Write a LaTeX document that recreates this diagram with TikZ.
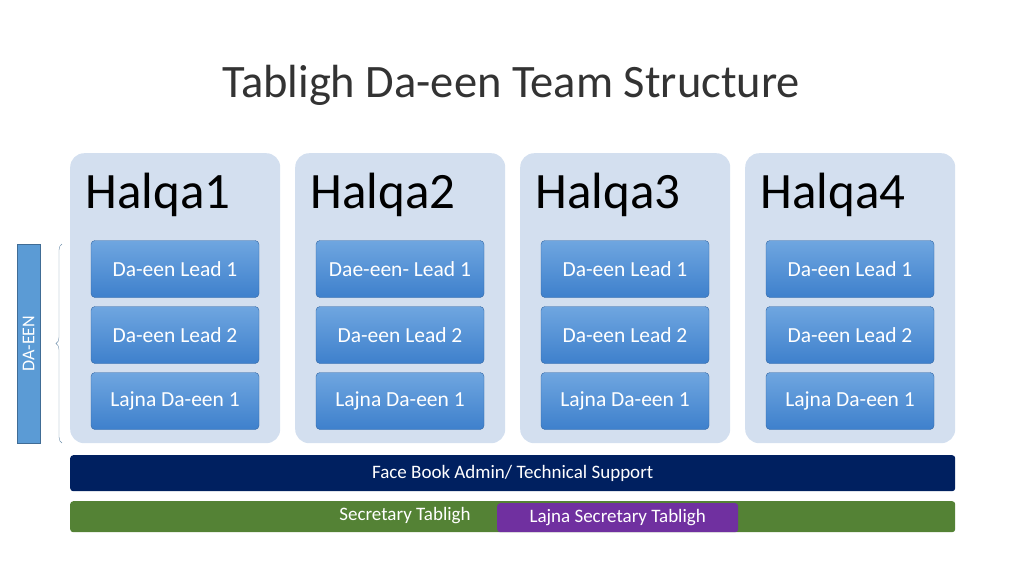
\documentclass[tikz,border=0pt]{standalone}
\usepackage{fontspec}
\setmainfont{Carlito}
\usetikzlibrary{decorations.pathreplacing}
\definecolor{panel}{HTML}{D3DFEF}
\definecolor{boxtop}{HTML}{6FA6E0}
\definecolor{boxbot}{HTML}{3E80CC}
\definecolor{navy}{HTML}{002060}
\definecolor{grn}{HTML}{548235}
\definecolor{purp}{HTML}{7030A0}
\definecolor{barblue}{HTML}{5B9BD5}
\tikzset{
 panelbox/.style={fill=panel, rounded corners=14pt, minimum width=210pt, minimum height=290pt, inner sep=0pt},
 leadbox/.style={top color=boxtop, bottom color=boxbot, draw=boxbot!80!black, rounded corners=4pt, minimum width=168pt, minimum height=57pt, text=white, font=\fontsize{21.5}{24}\selectfont},
 htitle/.style={anchor=west, font=\fontsize{51}{56}\selectfont, text=black},
 bartext/.style={text=white, font=\fontsize{19}{22}\selectfont},
}
\begin{document}
\begin{tikzpicture}[x=1pt,y=-1pt]
\useasboundingbox (0,0) rectangle (1024,576);
\node (title) at (511,85) {\fontsize{46.5}{52}\selectfont\color{black!80}Tabligh Da-een Team Structure};
\foreach \i/\x/\a in {1/70/Da-een Lead 1,2/295/Dae-een- Lead 1,3/520/Da-een Lead 1,4/745/Da-een Lead 1}{
  \node[panelbox, anchor=north west] (p\i) at (\x,153) {};
  \node[htitle] (h\i) at (\x+12,195) {Halqa\i};
  \node[leadbox] (a\i) at (\x+105,269) {\a};
  \node[leadbox] (b\i) at (\x+105,335) {Da-een Lead 2};
  \node[leadbox] (c\i) at (\x+105,401) {Lajna Da-een 1};
}
\node[fill=barblue, draw=barblue!70!black, minimum width=23pt, minimum height=199pt, inner sep=0pt] (daeen) at (28.5,343.5) {};
\node[rotate=90, text=white, font=\fontsize{18}{21}\selectfont] (dlab) at (daeen.center) {DA-EEN};
\coordinate (bt) at (62,244);
\coordinate (bb) at (62,443);
\draw[barblue!50!gray, decorate, decoration={brace, amplitude=6pt}] (bb) -- (bt);
\node[fill=navy, rounded corners=3pt, minimum width=885pt, minimum height=36pt, anchor=north west, inner sep=0pt] (fb) at (70,455) {};
\node[bartext] (fbt) at (fb.center) {Face Book Admin/ Technical Support};
\node[fill=grn, rounded corners=3pt, minimum width=885pt, minimum height=31pt, anchor=north west, inner sep=0pt] (st) at (70,501) {};
\node[bartext] (stt) at (405,516) {Secretary Tabligh};
\node[fill=purp, rounded corners=3pt, minimum width=241pt, minimum height=29pt, anchor=north west, inner sep=0pt] (lst) at (497,503) {};
\node[bartext] (lstt) at (lst.center) {Lajna Secretary Tabligh};
\end{tikzpicture}
\end{document}
